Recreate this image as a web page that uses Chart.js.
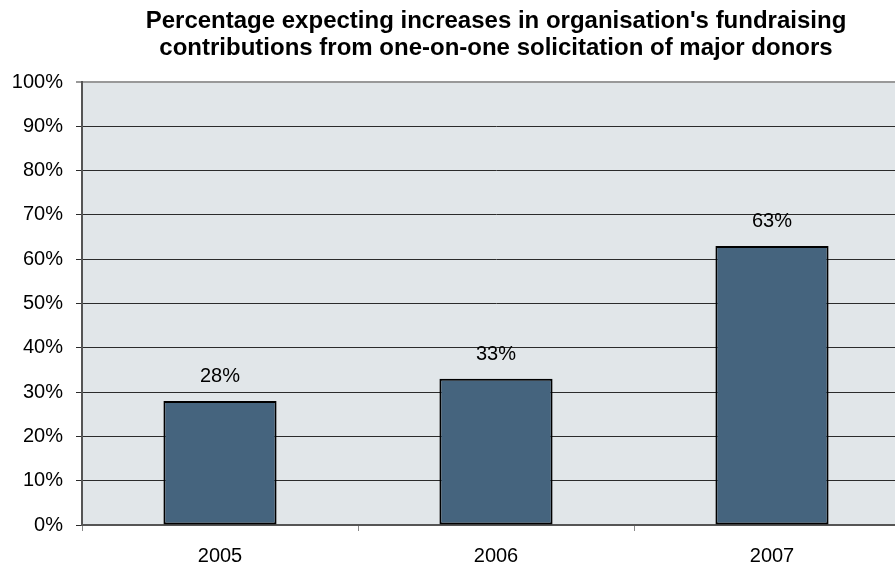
<!DOCTYPE html>
<html>
<head>
<meta charset="utf-8">
<script src="https://cdn.jsdelivr.net/npm/chart.js@4"></script>
<style>
    html, body { margin: 0; padding: 0; background: #ffffff; overflow: hidden; }
    #wrap { position: relative; width: 910px; height: 570px; }
</style>
</head>
<body>
<div id="wrap"><canvas id="myChart"></canvas></div>
<script>
const years = ["2005", "2006", "2007"];
const expectingIncrease = [28, 33, 63]; // % of respondents
const yTicks = [0, 10, 20, 30, 40, 50, 60, 70, 80, 90, 100];

const FONT = "'Liberation Sans', Arial, sans-serif";

// grey plot background behind the bars
const plotBackground = {
    id: "plotBackground",
    beforeDraw(chart) {
        const { ctx, chartArea } = chart;
        ctx.save();
        ctx.fillStyle = "#e1e6e9";
        ctx.fillRect(chartArea.left, chartArea.top, chartArea.right - chartArea.left, chartArea.bottom - chartArea.top);
        ctx.restore();
    }
};

// value labels above each bar
const barLabels = {
    id: "barLabels",
    afterDatasetsDraw(chart) {
        const { ctx } = chart;
        const meta = chart.getDatasetMeta(0);
        ctx.save();
        ctx.font = "20px " + FONT;
        ctx.fillStyle = "#000000";
        ctx.textAlign = "center";
        ctx.textBaseline = "middle";
        meta.data.forEach((bar, i) => {
            ctx.fillText(expectingIncrease[i] + "%", bar.x, bar.y - 24);
        });
        ctx.restore();
    }
};

document.addEventListener("DOMContentLoaded", function () {
    const ctx = document.getElementById("myChart").getContext("2d");

    new Chart(ctx, {
        type: "bar",
        data: {
            labels: years,
            datasets: [{
                data: expectingIncrease,
                backgroundColor: "#45647e",
                borderColor: "#000000",
                borderWidth: 2,
                borderSkipped: false,
                barPercentage: 0.41,
                categoryPercentage: 1.0
            }]
        },
        options: {
            responsive: true,
            maintainAspectRatio: false,
            animation: false,
            layout: { padding: 0 },
            plugins: {
                legend: { display: false },
                tooltip: { enabled: false },
                title: {
                    display: true,
                    fullSize: false,
                    text: [
                        "Percentage expecting increases in organisation's fundraising",
                        "contributions from one-on-one solicitation of major donors"
                    ],
                    color: "#000000",
                    font: { family: FONT, size: 24, weight: "bold", lineHeight: 1.125 },
                    padding: { top: 8, bottom: 20 }
                }
            },
            scales: {
                x: {
                    afterFit(scale) { scale.height = 45; },
                    grid: {
                        offset: true,
                        drawOnChartArea: false,
                        drawTicks: true,
                        tickLength: 6,
                        color: "#888888"
                    },
                    border: { color: "#555555", width: 2 },
                    ticks: {
                        color: "#000000",
                        padding: 13,
                        font: { family: FONT, size: 20 }
                    }
                },
                y: {
                    min: 0,
                    max: 100,
                    afterFit(scale) { scale.width = 82; },
                    afterBuildTicks(scale) {
                        scale.ticks = yTicks.map(v => ({ value: v }));
                    },
                    grid: {
                        tickLength: 6,
                        color: (c) => c.tick && c.tick.value === 100 ? "#999999" : "#2b2b2b",
                        lineWidth: (c) => c.tick && c.tick.value === 100 ? 2 : 1
                    },
                    border: { color: "#555555", width: 2 },
                    ticks: {
                        color: "#000000",
                        padding: 13,
                        font: { family: FONT, size: 20 },
                        callback: (v) => v + "%"
                    }
                }
            }
        },
        plugins: [plotBackground, barLabels]
    });
});
</script>
</body>
</html>
